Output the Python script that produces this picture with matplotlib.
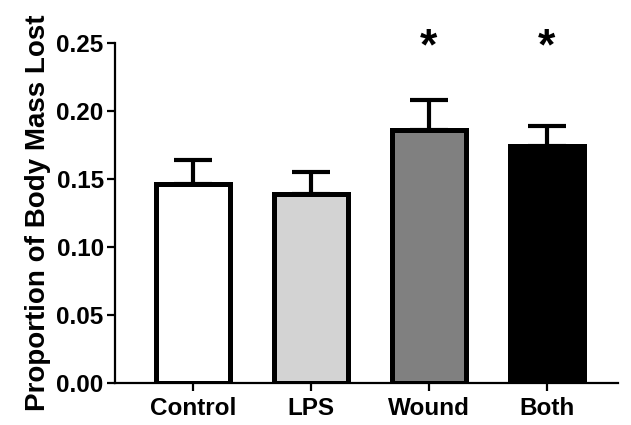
import matplotlib.pyplot as plt

groups = ["Control", "LPS", "Wound", "Both"]
means = [0.146, 0.139, 0.186, 0.174]
errors = [0.018, 0.016, 0.022, 0.015]
colors = ["white", "#d3d3d3", "#808080", "black"]
signif = ["", "", "*", "*"]

plt.rcParams['font.family'] = ['Liberation Sans', 'DejaVu Sans']
plt.rcParams['font.weight'] = 'bold'

fig = plt.figure(figsize=(6.31, 4.25), dpi=100)
ax = fig.add_axes([0.182, 0.099, 0.797, 0.800])

x = list(range(len(groups)))
ax.bar(x, means, width=0.63, color=colors, edgecolor="black", linewidth=3.6, zorder=2)
ax.errorbar(x, means, yerr=[[0] * len(errors), errors], fmt="none", ecolor="black",
            elinewidth=3, capsize=14, capthick=3, zorder=1)

for xi, m, e, s in zip(x, means, errors, signif):
    if s:
        ax.text(xi, 0.2465, s, ha="center", va="center", fontsize=32, fontweight="bold")

ax.set_xlim(-0.66, 3.6)
ax.set_ylim(0, 0.25)
ax.set_yticks([0.00, 0.05, 0.10, 0.15, 0.20, 0.25])
ax.set_yticklabels(["0.00", "0.05", "0.10", "0.15", "0.20", "0.25"])
ax.set_xticks(x)
ax.set_xticklabels(groups)
ax.set_ylabel("Proportion of Body Mass Lost", fontsize=20, fontweight="bold", labelpad=4)

for side in ["top", "right"]:
    ax.spines[side].set_visible(False)
for side in ["left", "bottom"]:
    ax.spines[side].set_linewidth(1.6)

ax.tick_params(axis="both", length=6, width=1.6, labelsize=17.5, pad=2)
ax.tick_params(axis="x", pad=4)
for lbl in ax.get_xticklabels() + ax.get_yticklabels():
    lbl.set_fontweight("bold")

fig.savefig("out.png", dpi=100)
